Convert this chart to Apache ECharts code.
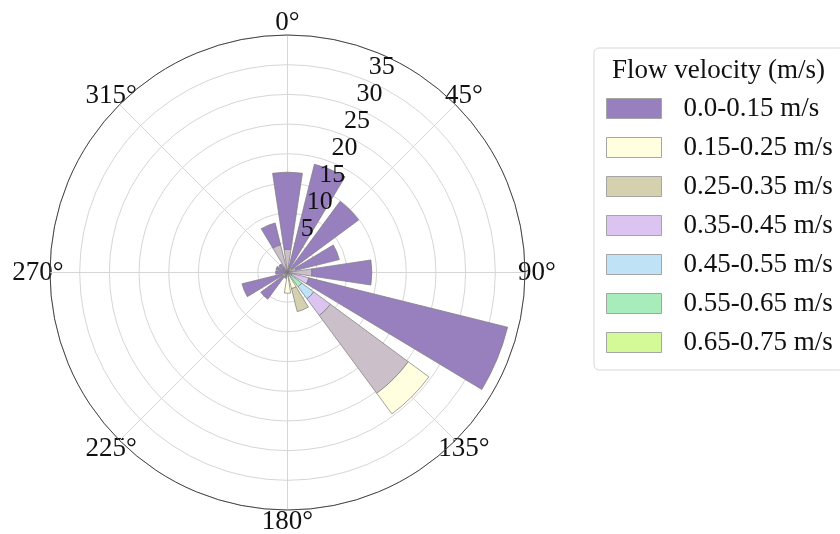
<!DOCTYPE html>
<html>
<head>
<meta charset="utf-8">
<script src="https://cdn.jsdelivr.net/npm/echarts@6/dist/echarts.min.js"></script>
<style>
html,body{margin:0;padding:0;background:#fff;}
#chart{width:840px;height:534px;}
</style>
</head>
<body>
<div id="chart"></div>
<script>
// Direction sectors (degrees, clockwise from north)
const directions = [0, 22.5, 45, 67.5, 90, 112.5, 135, 157.5, 180, 202.5, 225, 247.5, 270, 292.5, 315, 337.5];
// Radial ticks
const radialTicks = [5, 10, 15, 20, 25, 30, 35];
// Angle tick labels
const angleTicks = [0, 45, 90, 135, 180, 225, 270, 315];

// Frequency (%) per direction, stacked from the centre outward
const v065_075 = [0, 0, 0, 0, 0, 0.3, 0.5, 0.3, 0, 0, 0, 0, 0, 0, 0, 0];
const v055_065 = [0, 0, 0, 0, 0, 0.5, 2.5, 0, 0, 0, 0, 0, 0, 0, 0, 0];
const v045_055 = [0, 0, 0, 0, 0, 0, 2.5, 0, 0, 0, 0, 0, 0, 0, 0, 0];
const v035_045 = [0, 0, 0, 0, 0, 2.9, 3.5, 0, 0, 0, 0, 0, 0, 0, 0, 0];
const vUnlabeled = [3.9, 0, 1.0, 1.5, 4.1, 0, 16.3, 0, 0, 0, 1.0, 1.0, 0, 0, 0, 4.8];
const v015_025 = [0, 0, 0, 0, 0, 0, 4.3, 2.5, 3.5, 0, 0, 0, 0, 0, 0, 0];
const v025_035 = [0, 0, 0, 0, 0, 0, 0, 4.0, 0, 0, 0, 0, 0, 0, 0, 0];
const v000_015 = [13.0, 18.8, 13.9, 7.5, 10.1, 34.5, 0, 0, 0, 1.0, 4.6, 6.9, 2.0, 2.0, 1.8, 3.8];

const legendNames = ['0.0-0.15 m/s', '0.15-0.25 m/s', '0.25-0.35 m/s', '0.35-0.45 m/s', '0.45-0.55 m/s', '0.55-0.65 m/s', '0.65-0.75 m/s'];

const FONT = 'Liberation Serif';
const CX = 287.5, CY = 272.5, R = 237.5;
const LABEL_MARGIN = -30;           // anchor inside the ring
const LABEL_OFFSET = 12;            // wanted centre distance beyond the ring
const BOX_C = 2 * (LABEL_OFFSET - LABEL_MARGIN);   // box for N/E/S/W labels
const BOX_D = BOX_C * Math.SQRT1_2;                // box for diagonal labels

const stackDefs = [
  {name: '0.65-0.75 m/s', data: v065_075, color: '#d4fa98'},
  {name: '0.55-0.65 m/s', data: v055_065, color: '#a8ecbb'},
  {name: '0.45-0.55 m/s', data: v045_055, color: '#bfe2f6'},
  {name: '0.35-0.45 m/s', data: v035_045, color: '#dcc4f0'},
  {name: 'unlabeled', data: vUnlabeled, color: '#cbbfca'},
  {name: '0.15-0.25 m/s', data: v015_025, color: '#ffffe0'},
  {name: '0.25-0.35 m/s', data: v025_035, color: '#d5d0ae'},
  {name: '0.0-0.15 m/s', data: v000_015, color: '#9880be'}
];

const series = stackDefs.map(d => ({
  type: 'bar',
  name: d.name,
  coordinateSystem: 'polar',
  polarIndex: 0,
  stack: 'rose',
  barWidth: '76%',
  data: d.data.map(v => v === 0 ? null : v),
  itemStyle: {color: d.color, borderColor: '#7a7a7a', borderWidth: 0.7},
  emphasis: {disabled: true},
  animation: false,
  z: 3
}));

const labelTok = {fontFamily: FONT, fontSize: 27, color: '#111', align: 'center', verticalAlign: 'middle'};

const chart = echarts.init(document.getElementById('chart'), null, {renderer: 'canvas'});
chart.setOption({
  backgroundColor: '#ffffff',
  animation: false,
  title: {
    text: 'Flow velocity (m/s)',
    left: 612, top: 57, padding: 0,
    textStyle: {fontFamily: FONT, fontSize: 27, fontWeight: 'normal', color: '#111'}
  },
  legend: {
    data: legendNames,
    orient: 'vertical',
    left: 594, top: 48,
    padding: [47, 12, 14, 12],
    itemWidth: 55, itemHeight: 20, itemGap: 12,
    icon: 'rect',
    itemStyle: {borderColor: '#a5a5a5', borderWidth: 1},
    borderColor: '#d8d8d8', borderWidth: 1, borderRadius: 5,
    backgroundColor: '#fff',
    selectedMode: false,
    textStyle: {fontFamily: FONT, fontSize: 27, color: '#111', padding: [0, 0, 0, 17]}
  },
  polar: [
    {center: [CX, CY], radius: R},
    {center: [CX, CY], radius: R},
    {center: [CX, CY], radius: R}
  ],
  angleAxis: [
    {
      polarIndex: 0, type: 'category', data: directions,
      startAngle: 90 + 11.25, clockwise: true, boundaryGap: true,
      axisLine: {show: false}, axisTick: {show: false}, axisLabel: {show: false}, splitLine: {show: false}
    },
    {
      polarIndex: 1, type: 'value', min: 0, max: 360, interval: 45,
      startAngle: 90, clockwise: true,
      axisLine: {show: true, lineStyle: {color: '#444', width: 1}},
      axisTick: {show: false},
      splitLine: {show: true, lineStyle: {color: '#d6d6d6', width: 1}},
      axisLabel: {
        show: true, margin: LABEL_MARGIN,
        fontFamily: FONT, fontSize: 27, color: '#111',
        formatter: v => {
          if (angleTicks.indexOf(v) < 0) return '';
          return (v % 90 === 0 ? '{c|' : '{d|') + v + '°}';
        },
        rich: {
          c: Object.assign({width: BOX_C, height: BOX_C, lineHeight: BOX_C}, labelTok),
          d: Object.assign({width: BOX_D, height: BOX_D, lineHeight: BOX_D}, labelTok)
        }
      }
    },
    {
      polarIndex: 2, type: 'value', min: 0, max: 360,
      startAngle: 65.3, clockwise: true,
      axisLine: {show: false}, axisTick: {show: false}, axisLabel: {show: false}, splitLine: {show: false}
    }
  ],
  radiusAxis: [
    {
      polarIndex: 0, type: 'value', min: 0, max: 40,
      axisLine: {show: false}, axisTick: {show: false}, axisLabel: {show: false}, splitLine: {show: false}
    },
    {
      polarIndex: 1, type: 'value', min: 0, max: 40, interval: 5,
      axisLine: {show: false}, axisTick: {show: false}, axisLabel: {show: false},
      splitLine: {show: true, lineStyle: {color: '#d6d6d6', width: 1}}
    },
    {
      polarIndex: 2, type: 'value', min: 0, max: 40, interval: 1, z: 10,
      axisLine: {show: false}, axisTick: {show: false}, splitLine: {show: false},
      axisLabel: {
        show: true, margin: 0, align: 'center', verticalAlign: 'middle',
        fontFamily: FONT, fontSize: 26, color: '#111',
        formatter: v => {
          const t = Math.round(v) - 3;
          return radialTicks.indexOf(t) >= 0 ? String(t) : '';
        }
      }
    }
  ],
  series: series
});
</script>
</body>
</html>
